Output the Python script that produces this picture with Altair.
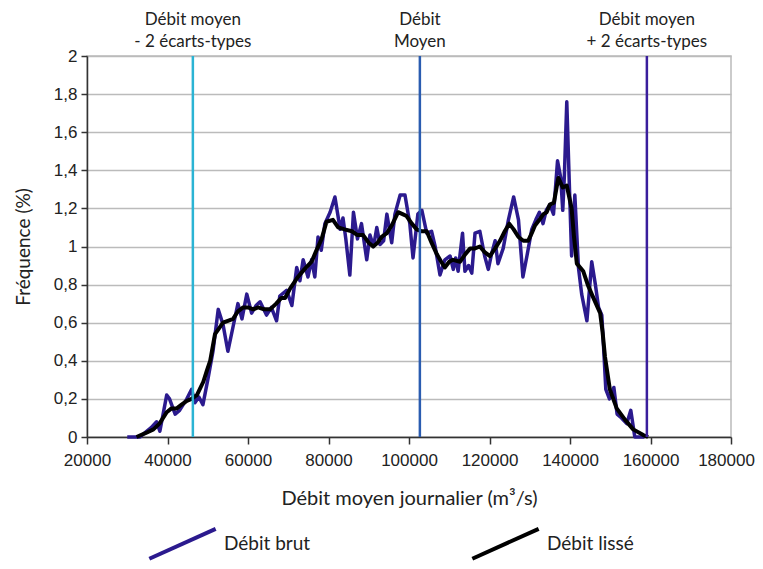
import altair as alt
import pandas as pd

# Raw frequency series (m3/s, %)
raw_x = [30000, 31000, 32000, 33200, 34800, 36000, 37300, 38100, 39800, 40500,
         41900, 43000, 44800, 46000, 46800, 47800, 48800, 50100, 51300, 52600,
         53800, 55000, 56300, 57500, 58500, 59700, 60900, 62000, 63000, 64600,
         65800, 67100, 67900, 69600, 70900, 72100, 72900, 73700, 74900, 75800,
         76600, 77400, 78200, 79100, 80400, 81600, 82900, 83600, 84300, 85300,
         86200, 87200, 88200, 89500, 90300, 91200, 92000, 92800, 93700, 94500,
         95700, 96500, 97800, 99000, 100200, 101000, 102200, 103200, 104400, 105600,
         106500, 107700, 108900, 110200, 111000, 111600, 112200, 113300, 113900, 114800,
         115600, 116400, 117600, 118800, 119700, 120500, 121400, 122100, 123400, 124700,
         126000, 127200, 128300, 129300, 130500, 131500, 132400, 133300, 134100, 135000,
         135900, 136900, 137700, 138200, 138600, 139200, 139800, 140400, 141200, 142100,
         142900, 144200, 145400, 146300, 147100, 147900, 148400, 148900, 149800, 150900,
         151700, 152800, 154100, 155100, 156100, 157800, 158500]
raw_y = [0.0, 0.0, 0.0, 0.0, 0.03, 0.05, 0.08, 0.03, 0.22, 0.20,
         0.12, 0.14, 0.20, 0.25, 0.18, 0.21, 0.17, 0.31, 0.45, 0.67,
         0.59, 0.45, 0.58, 0.70, 0.62, 0.75, 0.65, 0.69, 0.71, 0.64,
         0.68, 0.61, 0.74, 0.77, 0.69, 0.89, 0.82, 0.93, 0.84, 0.93,
         0.84, 1.05, 0.98, 1.12, 1.18, 1.26, 1.09, 1.15, 1.04, 0.85,
         1.18, 1.04, 1.12, 0.93, 1.06, 1.00, 1.10, 1.01, 1.03, 1.17,
         1.02, 1.17, 1.27, 1.27, 1.12, 0.94, 1.17, 1.19, 1.07, 1.08,
         1.00, 0.85, 0.93, 0.95, 0.88, 0.94, 0.87, 1.07, 0.87, 0.90,
         0.86, 1.07, 1.08, 0.95, 0.88, 0.96, 1.03, 0.91, 0.99, 1.14,
         1.26, 1.14, 0.84, 0.95, 1.09, 1.14, 1.18, 1.12, 1.19, 1.22,
         1.17, 1.45, 1.36, 1.19, 1.37, 1.76, 1.35, 0.95, 1.27, 0.89,
         0.75, 0.61, 0.92, 0.80, 0.68, 0.64, 0.45, 0.25, 0.20, 0.26,
         0.12, 0.10, 0.07, 0.14, 0.0, 0.0, 0.0]

# Smoothed series
smooth_x = [32300, 34500, 36500, 38000, 39800, 41000, 42300, 43500, 44800, 46000,
            47300, 48900, 49800, 50600, 51800, 52800, 53800, 55000, 56300, 57500,
            58800, 60000, 61300, 62500, 64000, 65500, 67000, 68300, 69200, 70500,
            72400, 74000, 75800, 77000, 78300, 79500, 81100, 82400, 84000, 85800,
            87200, 88600, 90000, 91100, 92200, 93200, 94500, 95700, 97300, 98400,
            99400, 100700, 101900, 103200, 104400, 105600, 106900, 108000, 108900, 110000,
            110900, 112700, 114000, 115200, 116400, 117600, 118800, 120100, 121400, 122600,
            123800, 124900, 126000, 127200, 128400, 129600, 130500, 131300, 132400, 133400,
            134200, 135000, 136000, 137100, 138200, 139200, 140000, 140400, 141000, 141700,
            143300, 144400, 145400, 147500, 148100, 148700, 149900, 151600, 153700, 155700,
            158200, 159400]
smooth_y = [0.0, 0.02, 0.04, 0.07, 0.13, 0.15, 0.15, 0.17, 0.19, 0.20,
            0.22, 0.29, 0.35, 0.40, 0.54, 0.57, 0.60, 0.61, 0.62, 0.66,
            0.68, 0.68, 0.67, 0.68, 0.67, 0.67, 0.70, 0.73, 0.73, 0.78,
            0.84, 0.88, 0.92, 0.98, 1.04, 1.13, 1.14, 1.10, 1.09, 1.08,
            1.06, 1.06, 1.02, 1.00, 1.02, 1.05, 1.07, 1.11, 1.18, 1.17,
            1.16, 1.12, 1.09, 1.08, 1.08, 1.02, 0.96, 0.92, 0.89, 0.92,
            0.93, 0.92, 0.96, 0.99, 0.99, 1.00, 0.97, 0.95, 0.99, 1.03,
            1.08, 1.12, 1.09, 1.05, 1.03, 1.03, 1.07, 1.11, 1.14, 1.17,
            1.18, 1.22, 1.23, 1.36, 1.31, 1.32, 1.24, 1.20, 1.05, 0.91,
            0.87, 0.80, 0.75, 0.65, 0.55, 0.42, 0.25, 0.15, 0.09, 0.04,
            0.01, 0.0]

# Reference lines: mean - 2 sd, mean, mean + 2 sd
ref_x = [46300, 102700, 159100]
ref_colors = ["#2BB4D4", "#2A5CB0", "#3A1E9C"]
ref_labels = ["Débit moyen\n- 2 écarts-types", "Débit\nMoyen", "Débit moyen\n+ 2 écarts-types"]

series_names = ["Débit brut", "Débit lissé"]
series_colors = ["#2B1A8E", "#000000"]

x_ticks = list(range(20000, 180001, 20000))
y_ticks = [0, 0.2, 0.4, 0.6, 0.8, 1.0, 1.2, 1.4, 1.6, 1.8, 2.0]

raw_df = pd.DataFrame({"x": raw_x, "y": raw_y, "series": series_names[0]})
smooth_df = pd.DataFrame({"x": smooth_x, "y": smooth_y, "series": series_names[1]})
ref_df = pd.DataFrame({"x": ref_x, "color": ref_colors, "label": ref_labels})

x_scale = alt.Scale(domain=[20000, 180000], nice=False, zero=False)
y_scale = alt.Scale(domain=[0, 2], nice=False)
color_scale = alt.Scale(domain=series_names, range=series_colors)

TEXT_FONT = "Lato"
NUM_FONT = "Liberation Sans"

x_axis = alt.Axis(values=x_ticks, format="d", grid=False, title="Débit moyen journalier (m³/s)",
                  labelFont=NUM_FONT, labelFontSize=17, labelColor="#222222", labelPadding=8,
                  labelFlush=False, labelOverlap=False,
                  labelOffset={"condition": {"test": "datum.value >= 180000", "value": -5}, "value": 0},
                  tickSize=7, tickWidth=1.5, tickColor="#333333",
                  domainColor="#333333", domainWidth=1.5,
                  titleFont=TEXT_FONT, titleFontSize=20, titleFontWeight="normal",
                  titleColor="#222222", titlePadding=20)
y_axis = alt.Axis(values=y_ticks, format=".1~f",
                  labelExpr="replace(datum.label, '.', ',')",
                  labelOverlap=False, labelFlush=False, labelSeparation=0,
                  grid=True, gridColor="#BBBBBB", gridWidth=1.5, title="Fréquence (%)",
                  labelFont=NUM_FONT, labelFontSize=17, labelColor="#222222", labelPadding=4,
                  tickSize=6, tickWidth=1.5, tickColor="#333333",
                  domainColor="#333333", domainWidth=1.5,
                  titleFont=TEXT_FONT, titleFontSize=19, titleFontWeight="normal",
                  titleColor="#222222", titlePadding=20)

legend = alt.Legend(title=None, orient="none", legendX=60, legendY=452, direction="horizontal",
                    symbolType="M-1,0.45L1,-0.45", symbolSize=4400, symbolStrokeWidth=4,
                    labelFont=TEXT_FONT, labelFontSize=19, labelColor="#222222",
                    labelOffset=6, columnPadding=153)

raw_line = alt.Chart(raw_df).mark_line(strokeWidth=3.5, strokeJoin="round").encode(
    x=alt.X("x:Q", scale=x_scale, axis=x_axis),
    y=alt.Y("y:Q", scale=y_scale, axis=y_axis),
    color=alt.Color("series:N", scale=color_scale, legend=legend),
)
smooth_line = alt.Chart(smooth_df).mark_line(strokeWidth=4, strokeJoin="round").encode(
    x=alt.X("x:Q", scale=x_scale, axis=x_axis),
    y=alt.Y("y:Q", scale=y_scale, axis=y_axis),
    color=alt.Color("series:N", scale=color_scale, legend=legend),
)
rules = alt.Chart(ref_df).mark_rule(strokeWidth=2.5).encode(
    x=alt.X("x:Q", scale=x_scale, axis=x_axis),
    stroke=alt.Stroke("color:N", scale=None),
)
labels = alt.Chart(ref_df).mark_text(lineBreak="\n", baseline="middle", align="center",
                                     font=TEXT_FONT, fontSize=17, lineHeight=21.5,
                                     color="#222222").encode(
    x=alt.X("x:Q", scale=x_scale, axis=x_axis),
    y=alt.value(-36),
    text="label:N",
)

chart = alt.layer(raw_line, smooth_line, rules, labels).properties(
    width=644, height=381,
    autosize=alt.AutoSizeParams(type="none"),
    padding={"left": 79, "top": 48, "right": 24, "bottom": 124},
).configure_view(stroke="#BBBBBB", strokeWidth=1.5)

chart.save("out.html", embed_options={"renderer": "svg", "actions": False})
